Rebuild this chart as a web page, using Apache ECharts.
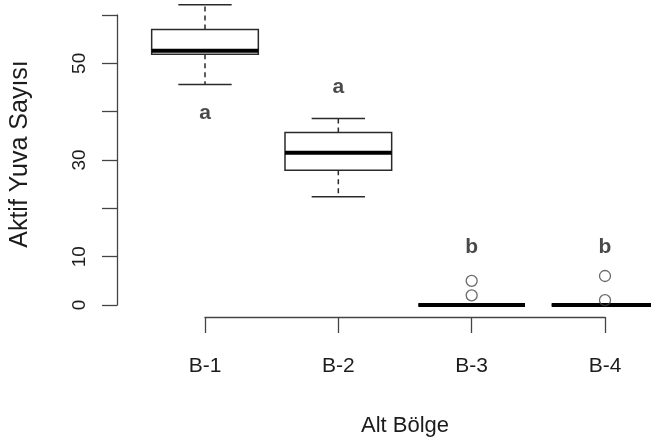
<!DOCTYPE html>
<html>
<head>
<meta charset="utf-8">
<script src="https://cdn.jsdelivr.net/npm/echarts@6/dist/echarts.min.js"></script>
<style>html,body{margin:0;padding:0;background:#fff}#c{width:651px;height:445px}</style>
</head>
<body>
<div id="c"></div>
<script>
const categories = ['B-1', 'B-2', 'B-3', 'B-4'];
const lowerWhisker = [45.6, 22.4, 0, 0];
const q1 = [51.9, 27.9, 0, 0];
const medians = [52.6, 31.5, 0, 0];
const q3 = [57.0, 35.7, 0, 0];
const upperWhisker = [62.1, 38.6, 0, 0];
const outlierGroup = ['B-3', 'B-3', 'B-4', 'B-4'];
const outlierValues = [5, 2, 6, 1];
const letters = ['a', 'a', 'b', 'b'];
const letterY = [39.6, 45.0, 12.0, 12.0];
const yTicks = [0, 10, 20, 30, 40, 50, 60];
const yTickLabels = ['0', '10', '', '30', '', '50', ''];

const FONT = "'Liberation Sans', Arial, sans-serif";
const TXT = '#1c1c1c';
const AX = '#444';

const boxData = categories.map((c, i) => [i + 1, lowerWhisker[i], q1[i], medians[i], q3[i], upperWhisker[i]]);
const outlierData = outlierGroup.map((g, i) => [categories.indexOf(g) + 1, outlierValues[i]]);
const letterData = letters.map((l, i) => [i + 1, letterY[i], l]);

function renderBox(params, api) {
  const x = api.value(0);
  const lo = api.value(1), a = api.value(2), m = api.value(3), b = api.value(4), hi = api.value(5);
  const half = api.size([0.8, 0])[0] / 2;
  const capHalf = half / 2;
  const cx = api.coord([x, m])[0];
  const yLo = api.coord([x, lo])[1];
  const yQ1 = api.coord([x, a])[1];
  const yM = api.coord([x, m])[1];
  const yQ3 = api.coord([x, b])[1];
  const yHi = api.coord([x, hi])[1];
  const thin = { stroke: '#2a2a2a', lineWidth: 1.5, fill: null };
  const children = [];
  if (yHi < yQ3) {
    children.push({ type: 'line', shape: { x1: cx, y1: yQ3, x2: cx, y2: yHi }, style: Object.assign({}, thin, { lineDash: [5, 4] }) });
    children.push({ type: 'line', shape: { x1: cx - capHalf, y1: yHi, x2: cx + capHalf, y2: yHi }, style: thin });
  }
  if (yLo > yQ1) {
    children.push({ type: 'line', shape: { x1: cx, y1: yQ1, x2: cx, y2: yLo }, style: Object.assign({}, thin, { lineDash: [5, 4] }) });
    children.push({ type: 'line', shape: { x1: cx - capHalf, y1: yLo, x2: cx + capHalf, y2: yLo }, style: thin });
  }
  children.push({ type: 'rect', shape: { x: cx - half, y: yQ3, width: half * 2, height: yQ1 - yQ3 }, style: { fill: '#fff', stroke: '#2a2a2a', lineWidth: 1.5 } });
  children.push({ type: 'line', shape: { x1: cx - half, y1: yM, x2: cx + half, y2: yM }, style: { stroke: '#000', lineWidth: 4.2 } });
  return { type: 'group', children: children };
}

const chart = echarts.init(document.getElementById('c'), null, { renderer: 'canvas' });
chart.setOption({
  animation: false,
  backgroundColor: '#fff',
  grid: { left: 205, right: 46, top: 15, bottom: 140, outerBoundsMode: 'none', containLabel: false },
  xAxis: {
    type: 'value', min: 1, max: 4, interval: 1, offset: 12,
    axisLine: { show: true, onZero: false, lineStyle: { color: AX, width: 1.3 } },
    axisTick: { show: true, length: 16, lineStyle: { color: AX, width: 1.3 } },
    splitLine: { show: false },
    axisLabel: { formatter: v => categories[Math.round(v) - 1] || '', fontSize: 21, color: TXT, fontFamily: FONT, margin: 39 },
    name: 'Alt Bölge', nameLocation: 'middle', nameGap: 98, nameMoveOverlap: false,
    nameTextStyle: { fontSize: 22, color: TXT, fontFamily: FONT }
  },
  yAxis: {
    type: 'value', min: 0, max: 60, interval: 10, offset: 88,
    axisLine: { show: true, onZero: false, lineStyle: { color: AX, width: 1.3 } },
    axisTick: { show: true, length: 15, lineStyle: { color: AX, width: 1.3 } },
    splitLine: { show: false },
    axisLabel: { rotate: 90, formatter: v => { const k = yTicks.indexOf(Math.round(v)); return k >= 0 ? yTickLabels[k] : ''; }, fontSize: 19, color: TXT, fontFamily: FONT, margin: 28, hideOverlap: false },
    name: 'Aktif Yuva Sayısı', nameLocation: 'middle', nameGap: 84, nameMoveOverlap: false,
    nameTextStyle: { fontSize: 25, color: TXT, fontFamily: FONT, padding: [0, 0, 0, 12] }
  },
  series: [
    {
      type: 'custom', renderItem: renderBox, data: boxData, clip: false,
      encode: { x: 0, y: [1, 2, 3, 4, 5] }, z: 2
    },
    {
      type: 'scatter', data: outlierData, symbol: 'circle', symbolSize: 11, clip: false, z: 3,
      itemStyle: { color: 'rgba(0,0,0,0)', borderColor: '#444', borderWidth: 1.3 }
    },
    {
      type: 'scatter', data: letterData, symbolSize: 0, clip: false, z: 4,
      label: { show: true, position: 'inside', formatter: p => p.data[2], fontSize: 21, fontWeight: 'bold', color: TXT, fontFamily: FONT }
    }
  ]
});
</script>
</body>
</html>
